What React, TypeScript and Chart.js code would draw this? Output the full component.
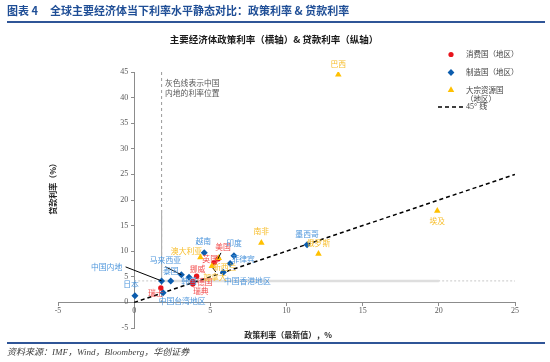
import React, { useEffect, useRef } from "react";
import { Chart, registerables } from "chart.js";

Chart.register(...registerables);

// ---------------- data ----------------
const consumerNames = ["瑞士", "挪威", "德国", "瑞典", "英国", "美国"];
const consumerPolicy = [1.75, 4.1, 3.85, 3.85, 5.25, 5.5];
const consumerLoan = [2.8, 5.1, 4.1, 3.6, 7.75, 8.5];

const manufacturerNames = ["日本", "中国内地", "中国台湾地区", "泰国", "马来西亚", "韩国", "越南", "印度", "菲律宾", "中国香港地区", "墨西哥"];
const manufacturerPolicy = [0.05, 1.8, 1.9, 2.4, 3.1, 3.6, 4.6, 6.55, 6.3, 5.85, 11.35];
const manufacturerLoan = [1.3, 4.2, 1.9, 4.2, 5.4, 4.9, 9.7, 9.1, 7.6, 5.9, 11.25];

const resourceNames = ["澳大利亚", "加拿大", "新西兰", "南非", "俄罗斯", "巴西", "埃及"];
const resourcePolicy = [4.35, 5.1, 5.55, 8.35, 12.1, 13.4, 19.9];
const resourceLoan = [8.8, 7.1, 8.65, 11.65, 9.5, 44.5, 17.9];

const diagonalX = [0, 25];
const diagonalY = [0, 25];

const chinaPolicy = 1.8;
const chinaLoan = 4.2;

const xMin = -5, xMax = 25, yMin = -5, yMax = 45, tickStep = 5;

const seriesNames = ["消费国（地区）", "制造国（地区）", "大宗资源国（地区）", "45° 线"];
const headerNo = "图表 4";
const headerText = "全球主要经济体当下利率水平静态对比：政策利率 & 贷款利率";
const chartTitle = "主要经济体政策利率（横轴）& 贷款利率（纵轴）";
const xTitle = "政策利率（最新值），%";
const yTitle = "贷款利率（%）";
const noteLines = ["灰色线表示中国", "内地的利率位置"];
const sourceText = "资料来源：IMF，Wind，Bloomberg，华创证券";

// ---------------- styling ----------------
const RED = "#e8141c";
const BLUE = "#0b5cad";
const YELLOW = "#ffc000";
const RED_TXT = "#f24b4b";
const BLUE_TXT = "#4f97dc";
const YELLOW_TXT = "#f7bd2a";
const CJK = '"Noto Sans CJK SC", sans-serif';
const SERIF = '"Liberation Serif", "Noto Sans CJK SC", serif';

// label offsets (px) from each point
const labelOffsets: Record<string, [number, number]> = {
  瑞士: [-5, 5], 挪威: [1, -7], 德国: [12, 1], 瑞典: [8, 7], 英国: [-4, -4], 美国: [5, -12],
  日本: [-4, -12], 中国内地: [-55, -14], 中国台湾地区: [19, 8], 泰国: [0, -10], 马来西亚: [-16, -15],
  韩国: [0, 4], 越南: [-1, -12], 印度: [0, -13], 菲律宾: [13, -4], 中国香港地区: [24, 9], 墨西哥: [0, -11],
  澳大利亚: [-14, -6], 加拿大: [3, 11], 新西兰: [6, 9], 南非: [0, -12], 俄罗斯: [0, -11], 巴西: [0, -11], 埃及: [0, 10],
};
const leaderLines: Record<string, [number, number, number, number]> = {
  中国内地: [-36, -14, 0, 0],
  马来西亚: [-16, -8, 0, 0],
  美国: [3, -6, 0, 0],
  加拿大: [1, 2, 4, 6],
};

function drawMarker(ctx: CanvasRenderingContext2D, style: string, x: number, y: number, r: number, color: string) {
  ctx.save();
  ctx.fillStyle = color;
  ctx.beginPath();
  if (style === "circle") {
    ctx.arc(x, y, r, 0, Math.PI * 2);
  } else if (style === "rectRot") {
    ctx.moveTo(x, y - r); ctx.lineTo(x + r, y); ctx.lineTo(x, y + r); ctx.lineTo(x - r, y); ctx.closePath();
  } else {
    const a = (Math.PI * 2) / 3;
    ctx.moveTo(x, y - r);
    ctx.lineTo(x + Math.sin(a) * r, y - Math.cos(a) * r);
    ctx.lineTo(x + Math.sin(2 * a) * r, y - Math.cos(2 * a) * r);
    ctx.closePath();
  }
  ctx.fill();
  ctx.restore();
}

const overlayPlugin = {
  id: "overlay",
  beforeDatasetsDraw(chart: any) {
    const { ctx } = chart;
    const xs = chart.scales.x, ys = chart.scales.y;
    const cx = xs.getPixelForValue(chinaPolicy), cy = ys.getPixelForValue(chinaLoan);
    ctx.save();
    // dotted horizontal
    ctx.strokeStyle = "#c8c8c8"; ctx.lineWidth = 1; ctx.setLineDash([2, 2]);
    ctx.beginPath(); ctx.moveTo(xs.getPixelForValue(0), cy); ctx.lineTo(xs.getPixelForValue(25), cy); ctx.stroke();
    // solid light horizontal band
    ctx.setLineDash([]);
    ctx.strokeStyle = "#dedede"; ctx.lineWidth = 2.5;
    ctx.beginPath(); ctx.moveTo(cx, cy); ctx.lineTo(xs.getPixelForValue(20), cy); ctx.stroke();
    // dashed vertical
    ctx.strokeStyle = "#9a9a9a"; ctx.lineWidth = 1; ctx.setLineDash([3, 3]);
    ctx.beginPath(); ctx.moveTo(cx, ys.getPixelForValue(45)); ctx.lineTo(cx, ys.getPixelForValue(0)); ctx.stroke();
    ctx.setLineDash([]);
    ctx.strokeStyle = "#b0b0b0"; ctx.lineWidth = 1.2;
    ctx.beginPath(); ctx.moveTo(cx, ys.getPixelForValue(18)); ctx.lineTo(cx, cy); ctx.stroke();
    ctx.restore();
  },
  afterDatasetsDraw(chart: any) {
    const { ctx } = chart;
    const xs = chart.scales.x, ys = chart.scales.y;
    ctx.save();

    // tick labels
    ctx.font = `8px ${SERIF}`;
    ctx.fillStyle = "#595959";
    ctx.textAlign = "center"; ctx.textBaseline = "middle";
    const y0 = ys.getPixelForValue(0);
    const x0 = xs.getPixelForValue(0);
    xs.ticks.forEach((t: any) => ctx.fillText(String(t.value), xs.getPixelForValue(t.value), y0 + 9));
    ctx.textAlign = "right";
    ys.ticks.forEach((t: any) => ctx.fillText(String(t.value), x0 - 6, ys.getPixelForValue(t.value)));

    // leader lines & labels
    const groups = [
      { names: consumerNames, xs: consumerPolicy, ys: consumerLoan, color: RED_TXT },
      { names: manufacturerNames, xs: manufacturerPolicy, ys: manufacturerLoan, color: BLUE_TXT },
      { names: resourceNames, xs: resourcePolicy, ys: resourceLoan, color: YELLOW_TXT },
    ];
    ctx.strokeStyle = "#000"; ctx.lineWidth = 1;
    groups.forEach((g) => g.names.forEach((n, i) => {
      const l = leaderLines[n];
      if (!l) return;
      const px = xs.getPixelForValue(g.xs[i]), py = ys.getPixelForValue(g.ys[i]);
      ctx.beginPath(); ctx.moveTo(px + l[0], py + l[1]); ctx.lineTo(px + l[2], py + l[3]); ctx.stroke();
    }));
    ctx.font = `7.8px ${CJK}`;
    ctx.textAlign = "center"; ctx.textBaseline = "middle";
    groups.forEach((g) => g.names.forEach((n, i) => {
      const px = xs.getPixelForValue(g.xs[i]), py = ys.getPixelForValue(g.ys[i]);
      const o = labelOffsets[n] || [0, -10];
      ctx.fillStyle = g.color;
      ctx.fillText(n, px + o[0], py + o[1]);
    }));

    // note
    ctx.font = `7.8px ${CJK}`;
    ctx.fillStyle = "#595959"; ctx.textAlign = "left";
    ctx.fillText(noteLines[0], 165, 83);
    ctx.fillText(noteLines[1], 165, 93.5);

    // axis titles
    ctx.fillStyle = "#262626";
    ctx.font = `bold 8px ${CJK}`;
    ctx.textAlign = "center";
    ctx.fillText(xTitle, 288, 335);
    ctx.save();
    ctx.translate(53, 187);
    ctx.rotate(-Math.PI / 2);
    ctx.fillText(yTitle, 0, 0);
    ctx.restore();

    // legend
    ctx.font = `7.5px ${CJK}`;
    ctx.fillStyle = "#404040";
    ctx.textAlign = "left";
    drawMarker(ctx, "circle", 451, 54.5, 2.6, RED);
    ctx.fillText(seriesNames[0], 466, 54.5);
    drawMarker(ctx, "rectRot", 451, 72.5, 3.4, BLUE);
    ctx.fillText(seriesNames[1], 466, 72.5);
    drawMarker(ctx, "triangle", 451, 90, 3.8, YELLOW);
    ctx.fillText("大宗资源国", 466, 90);
    ctx.fillText("（地区）", 466, 99.5);
    ctx.strokeStyle = "#000"; ctx.lineWidth = 1.5; ctx.setLineDash([4, 3]);
    ctx.beginPath(); ctx.moveTo(438, 107); ctx.lineTo(463, 107); ctx.stroke();
    ctx.setLineDash([]);
    ctx.font = `8px ${SERIF}`;
    ctx.fillText(seriesNames[3], 466, 107);

    ctx.restore();
  },
};

export default function App() {
  const canvasRef = useRef<HTMLCanvasElement | null>(null);

  useEffect(() => {
    if (!canvasRef.current) return;
    const toPts = (a: number[], b: number[]) => a.map((x, i) => ({ x, y: b[i] }));
    const chart = new Chart(canvasRef.current, {
      type: "scatter",
      data: {
        datasets: [
          {
            label: seriesNames[2],
            data: toPts(resourcePolicy, resourceLoan),
            pointStyle: "triangle",
            pointRadius: 3.8,
            backgroundColor: YELLOW,
            borderColor: YELLOW,
            borderWidth: 0,
            order: 1,
          },
          {
            label: seriesNames[0],
            data: toPts(consumerPolicy, consumerLoan),
            pointStyle: "circle",
            pointRadius: 2.7,
            backgroundColor: RED,
            borderColor: RED,
            borderWidth: 0,
            order: 2,
          },
          {
            label: seriesNames[1],
            data: toPts(manufacturerPolicy, manufacturerLoan),
            pointStyle: "rectRot",
            pointRadius: 3.5,
            backgroundColor: BLUE,
            borderColor: BLUE,
            borderWidth: 0,
            order: 3,
          },
          {
            label: seriesNames[3],
            data: toPts(diagonalX, diagonalY),
            showLine: true,
            borderColor: "#000",
            borderWidth: 1.5,
            borderDash: [4, 3],
            pointRadius: 0,
            order: 4,
          } as any,
        ],
      },
      options: {
        responsive: false,
        animation: false,
        events: [],
        layout: { padding: { left: 58, right: 35, top: 72, bottom: 34 } },
        plugins: { legend: { display: false }, tooltip: { enabled: false }, title: { display: false } },
        scales: {
          x: {
            type: "linear",
            min: xMin,
            max: xMax,
            position: { y: 0 } as any,
            ticks: { stepSize: tickStep, display: false },
            grid: { display: true, drawOnChartArea: false, drawTicks: true, tickLength: 3, color: "#8c8c8c" },
            border: { display: true, color: "#8c8c8c", width: 1 },
          },
          y: {
            type: "linear",
            min: yMin,
            max: yMax,
            position: { x: 0 } as any,
            ticks: { stepSize: tickStep, display: false },
            grid: { display: true, drawOnChartArea: false, drawTicks: true, tickLength: 3, color: "#8c8c8c" },
            border: { display: true, color: "#8c8c8c", width: 1 },
          },
        },
      },
      plugins: [overlayPlugin],
    });
    return () => chart.destroy();
  }, []);

  return (
    <div style={{ position: "absolute", left: 0, top: 0, width: 550, height: 362, background: "#fff", overflow: "hidden" }}>
      <canvas ref={canvasRef} width={550} height={362} style={{ position: "absolute", left: 0, top: 0, width: 550, height: 362 }} />
      <div style={{ position: "absolute", left: 7, top: 3, font: `bold 11px ${CJK}`, lineHeight: "14px", color: "#1f4e96", whiteSpace: "pre" }}>{headerNo}</div>
      <div style={{ position: "absolute", left: 50, top: 3, font: `bold 11px ${CJK}`, lineHeight: "14px", color: "#1f4e96", whiteSpace: "pre" }}>{headerText}</div>
      <div style={{ position: "absolute", left: 7, top: 21, width: 538, height: 2, background: "#2f5597" }} />
      <div style={{ position: "absolute", left: 0, width: 548, top: 32, textAlign: "center", font: `bold 9.5px ${CJK}`, lineHeight: "14px", color: "#1a1a1a", whiteSpace: "pre" }}>{chartTitle}</div>
      <div style={{ position: "absolute", left: 7, top: 342, width: 538, height: 2, background: "#2f5597" }} />
      <div style={{ position: "absolute", left: 7, top: 346, font: `italic 9px ${SERIF}`, lineHeight: "13px", color: "#404040", whiteSpace: "pre" }}>{sourceText}</div>
    </div>
  );
}
